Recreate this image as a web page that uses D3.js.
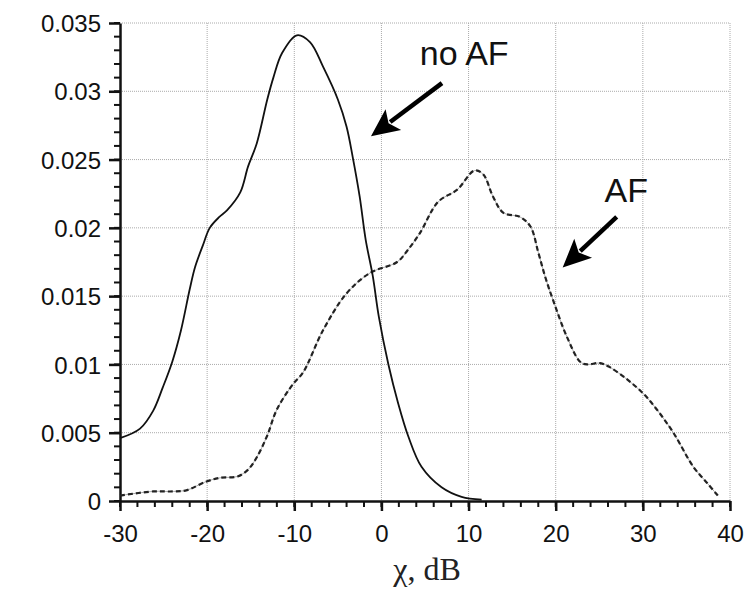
<!DOCTYPE html>
<meta charset="utf-8">
<html>
<head>
<script type="text/javascript" src="https://d3js.org/d3.v7.js"></script>
</head>
<body style="margin:0;background:#fff">
<div id="plotArea"></div>
<style>
  .tick text { font-family: "Liberation Sans", Arial, sans-serif; }
</style>
<script>
  // values
  const noAfX = [-30, -27.7, -26.2, -25.1, -24, -23, -22, -21.4, -20.5, -19.7, -18.6, -17.7, -16.2, -15.3, -14.3, -13.1, -12.4, -11.4, -9.7, -8.2, -6.7, -5.0, -4.0, -3.3, -2.5, -1.8, -1.0, -0.3, 0.8, 1.9, 3.1, 4.6, 6.9, 9.2, 11.5];
  const noAfY = [0.0046, 0.0053, 0.0066, 0.0083, 0.0102, 0.0125, 0.0155, 0.0171, 0.0187, 0.0200, 0.0208, 0.0213, 0.0226, 0.0245, 0.0262, 0.0294, 0.0310, 0.0328, 0.0341, 0.0336, 0.0318, 0.0294, 0.0274, 0.0252, 0.0223, 0.0191, 0.0165, 0.0135, 0.0100, 0.0072, 0.0047, 0.0025, 0.0010, 0.0003, 0.0001];

  const afX = [-30, -26.2, -23.9, -22.3, -20.2, -18.5, -16.5, -15.3, -14.3, -13.1, -12.0, -10.1, -9.0, -6.7, -4.0, -1.3, 1.8, 3.05, 4.4, 6.5, 8.7, 10.7, 11.7, 12.8, 14.0, 15.9, 17.1, 18.0, 18.8, 19.7, 21.3, 22.8, 23.6, 25.1, 26.2, 28.2, 30.0, 31.6, 33.5, 35.8, 37.4, 38.6];
  const afY = [0.0004, 0.0007, 0.0007, 0.0008, 0.0014, 0.0017, 0.0018, 0.0023, 0.0032, 0.0048, 0.0067, 0.0086, 0.0094, 0.0125, 0.0152, 0.0167, 0.0175, 0.0184, 0.0196, 0.0219, 0.0228, 0.0242, 0.0239, 0.0223, 0.0211, 0.0208, 0.0201, 0.0182, 0.0164, 0.0147, 0.0120, 0.0102, 0.0100, 0.0101, 0.0098, 0.0089, 0.0079, 0.0067, 0.0050, 0.0025, 0.0013, 0.0004];

  const xTicks = [-30, -20, -10, 0, 10, 20, 30, 40];
  const xTickLabels = ['-30', '-20', '-10', '0', '10', '20', '30', '40'];
  const yTicks = [0, 0.005, 0.01, 0.015, 0.02, 0.025, 0.03, 0.035];
  const yTickLabels = ['0', '0.005', '0.01', '0.015', '0.02', '0.025', '0.03', '0.035'];

  // annotations: label, text position, arrow start, arrow tip (data units)
  const notes = [
    {label: 'no AF', tx: 4.4, ty: 0.0319, x1: 6.95, y1: 0.0306, x2: -1.2, y2: 0.0267},
    {label: 'AF', tx: 25.6, ty: 0.0219, x1: 27.0, y1: 0.0208, x2: 20.8, y2: 0.0171}
  ];

  const margin = {top: 23, right: 20, bottom: 89, left: 120},
        width = 750 - margin.left - margin.right,
        height = 590 - margin.top - margin.bottom;

  const svg = d3.select("#plotArea")
                .append("svg")
                .attr("width", 750)
                .attr("height", 590)
                .append("g")
                .attr("transform", `translate(${margin.left}, ${margin.top})`);

  const xScale = d3.scaleLinear().domain([-30, 40]).range([0, width]);
  const yScale = d3.scaleLinear().domain([0, 0.035]).range([height, 0]);

  // dotted grid
  const grid = svg.append('g').attr('stroke', '#aaa').attr('stroke-width', 1).attr('stroke-dasharray', '1,1');
  grid.selectAll('.gx').data(xTicks.slice(1)).enter().append('line')
    .attr('x1', d => xScale(d)).attr('x2', d => xScale(d))
    .attr('y1', 0).attr('y2', height);
  grid.selectAll('.gy').data(yTicks.slice(1)).enter().append('line')
    .attr('x1', 0).attr('x2', width)
    .attr('y1', d => yScale(d)).attr('y2', d => yScale(d));

  // minor ticks
  const xMinor = d3.range(-30, 40.01, 2);
  const yMinor = d3.range(0, 0.0351, 0.001);
  svg.append('g').selectAll('line').data(xMinor).enter().append('line')
    .attr('x1', d => xScale(d)).attr('x2', d => xScale(d))
    .attr('y1', height).attr('y2', height + 6)
    .attr('stroke', '#111').attr('stroke-width', 2);
  svg.append('g').selectAll('line').data(yMinor).enter().append('line')
    .attr('x1', -6).attr('x2', 0)
    .attr('y1', d => yScale(d)).attr('y2', d => yScale(d))
    .attr('stroke', '#111').attr('stroke-width', 2);

  // axes
  const xAxis = svg.append('g').attr('transform', `translate(0,${height})`)
    .call(d3.axisBottom(xScale).tickValues(xTicks).tickFormat((d, i) => xTickLabels[i]).tickSize(10).tickSizeOuter(0).tickPadding(14));
  const yAxis = svg.append('g')
    .call(d3.axisLeft(yScale).tickValues(yTicks).tickFormat((d, i) => yTickLabels[i]).tickSize(11).tickSizeOuter(0).tickPadding(8));
  [xAxis, yAxis].forEach(a => {
    a.select('.domain').attr('stroke', '#111').attr('stroke-width', 2.5);
    a.selectAll('.tick line').attr('stroke', '#111').attr('stroke-width', 2.5);
    a.selectAll('.tick text').style('font-size', '24px').attr('fill', '#111');
  });
  yAxis.selectAll('.tick text').attr('dy', '0.36em');
  xAxis.selectAll('.tick text').attr('dy', '0.71em');

  // x axis title
  svg.append('text')
    .attr('x', width / 2 + 2).attr('y', height + 79)
    .attr('text-anchor', 'middle')
    .style('font-family', '"Liberation Serif", "Times New Roman", serif')
    .style('font-size', '32px')
    .attr('fill', '#222')
    .text('χ, dB');

  // curves
  const line = d3.line().x(d => xScale(d[0])).y(d => yScale(d[1])).curve(d3.curveCatmullRom.alpha(0.5));
  // AF: faint grey under dark dashes
  svg.append('path').datum(d3.zip(afX, afY))
    .attr('d', line).attr('fill', 'none')
    .attr('stroke', '#aaa').attr('stroke-width', 1);
  svg.append('path').datum(d3.zip(afX, afY))
    .attr('d', line).attr('fill', 'none')
    .attr('stroke', '#222').attr('stroke-width', 2.2)
    .attr('stroke-dasharray', '5,3');
  svg.append('path').datum(d3.zip(noAfX, noAfY))
    .attr('d', line).attr('fill', 'none')
    .attr('stroke', '#111').attr('stroke-width', 1.8);

  // annotations with arrows
  notes.forEach(function(n) {
    svg.append('text')
      .attr('x', xScale(n.tx)).attr('y', yScale(n.ty))
      .style('font-family', '"Liberation Sans", Arial, sans-serif')
      .style('font-size', '34px')
      .attr('fill', '#111')
      .text(n.label);
    const x1 = xScale(n.x1), y1 = yScale(n.y1), x2 = xScale(n.x2), y2 = yScale(n.y2);
    const ang = Math.atan2(y2 - y1, x2 - x1);
    const hl = 28, hw = 13;
    const bx = x2 - hl * Math.cos(ang), by = y2 - hl * Math.sin(ang);
    svg.append('line')
      .attr('x1', x1).attr('y1', y1).attr('x2', bx + 4 * Math.cos(ang)).attr('y2', by + 4 * Math.sin(ang))
      .attr('stroke', '#000').attr('stroke-width', 4.5);
    const px = -Math.sin(ang), py = Math.cos(ang);
    svg.append('polygon')
      .attr('points', [[x2, y2], [bx + hw * px, by + hw * py], [bx + 6 * Math.cos(ang), by + 6 * Math.sin(ang)], [bx - hw * px, by - hw * py]].map(p => p.join(',')).join(' '))
      .attr('fill', '#000');
  });
</script>
</body>
</html>
